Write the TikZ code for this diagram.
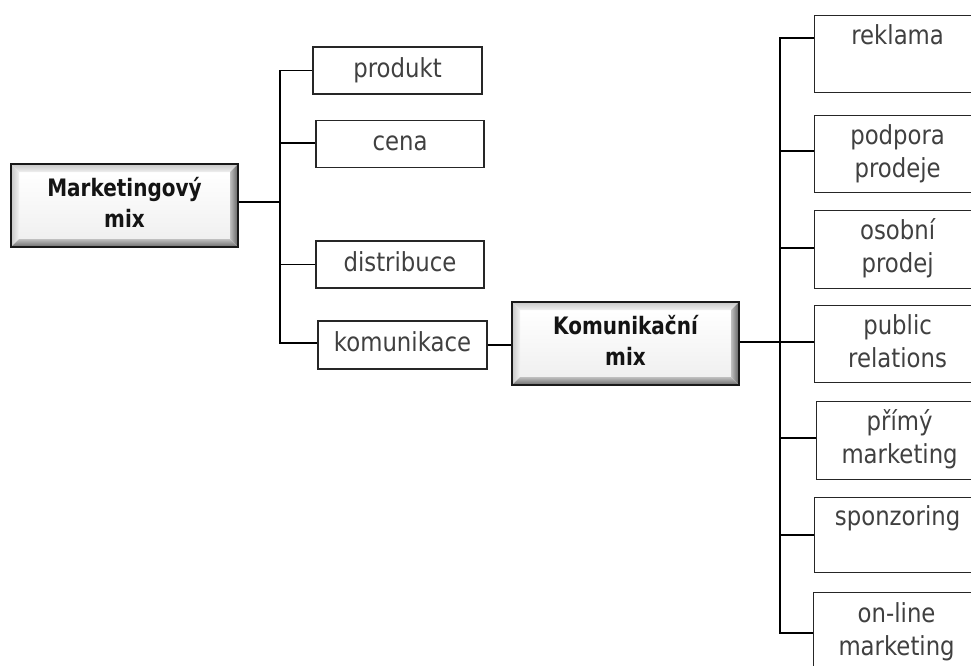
\documentclass[tikz,border=0pt]{standalone}
\usepackage{graphicx}
\usepackage{fontspec}
\setmainfont{DejaVu Sans}
\newcommand{\vtxt}[1]{\scalebox{1}[1.15]{\begin{tabular}{@{}c@{}}#1\end{tabular}}}
\newcommand{\btxt}[1]{\scalebox{1}[1.2]{\begin{tabular}{@{}c@{}}#1\end{tabular}}}
\begin{document}
\begin{tikzpicture}[x=1pt,y=-1pt,
  conn/.style={draw=black,line width=1.3pt},
  plainbox/.style={draw=black!85,line width=1.2pt,fill=white,inner sep=0pt,
    text=black!75,font=\fontsize{22.8}{28.7}\selectfont,align=center},
  bevelbox/.style={draw=black!90,line width=1.6pt,fill=white,inner sep=0pt,
    minimum width=227,minimum height=83,align=center,text=black!92,
    font=\fontsize{20}{25.8}\selectfont\bfseries,
    path picture={
      \coordinate (pnw) at (path picture bounding box.north west);
      \coordinate (pne) at (path picture bounding box.north east);
      \coordinate (psw) at (path picture bounding box.south west);
      \coordinate (pse) at (path picture bounding box.south east);
      \shade[top color=white, bottom color=black!6] ([xshift=8pt,yshift=-8pt]pnw) rectangle ([xshift=-8pt,yshift=8pt]pse);
      \shade[top color=black!22, bottom color=black!6] (pnw) -- (pne) -- ([xshift=-8pt,yshift=-8pt]pne) -- ([xshift=8pt,yshift=-8pt]pnw) -- cycle;
      \shade[left color=black!22, right color=black!5] (pnw) -- ([xshift=8pt,yshift=-8pt]pnw) -- ([xshift=8pt,yshift=8pt]psw) -- (psw) -- cycle;
      \shade[left color=black!25, right color=black!62] (pne) -- ([xshift=-8pt,yshift=-8pt]pne) -- ([xshift=-8pt,yshift=8pt]pse) -- (pse) -- cycle;
      \shade[top color=black!25, bottom color=black!58] (psw) -- ([xshift=8pt,yshift=8pt]psw) -- ([xshift=-8pt,yshift=8pt]pse) -- (pse) -- cycle;
    }},
  leftbox/.style={plainbox,minimum width=168,minimum height=47},
  rightbox/.style={plainbox,minimum width=166,minimum height=77}]
\useasboundingbox (0,0) rectangle (971,666);
\clip (0,0) rectangle (971,666);
% main boxes
\node[bevelbox] (mm) at (124.5,205.5) {\btxt{Marketingový\\mix}};
\node[bevelbox] (km) at (625.5,343.5) {\btxt{Komunikační\\mix}};
% left column
\node[leftbox,minimum width=169] (produkt) at (397.5,70.5) {\vtxt{produkt}};
\node[leftbox] (cena) at (400,144) {\vtxt{cena}};
\node[leftbox] (distribuce) at (400,264.5) {\vtxt{distribuce}};
\node[leftbox,minimum width=169,minimum height=48] (komunikace) at (402.5,345) {\vtxt{komunikace}};
% right column
\node[rightbox,anchor=north west] (reklama) at (814,15) {\vtxt{reklama\\\mbox{}}};
\node[rightbox,anchor=north west] (podpora) at (814,115) {\vtxt{podpora\\prodeje}};
\node[rightbox,anchor=north west,minimum height=78] (osobni) at (814,210) {\vtxt{osobní\\prodej}};
\node[rightbox,anchor=north west] (public) at (814,305) {\vtxt{public\\relations}};
\node[rightbox,anchor=north west,minimum height=78] (primy) at (816,401) {\vtxt{přímý\\marketing}};
\node[rightbox,anchor=north west,minimum height=75] (sponzoring) at (814,497) {\vtxt{sponzoring\\\mbox{}}};
\node[rightbox,anchor=north west,minimum height=80] (online) at (813,592) {\vtxt{on-line\\marketing}};
% left bus
\coordinate (lbx) at (280,0);
\draw[conn] (mm.east |- 0,202) -- (lbx |- 0,202);
\draw[conn] (produkt.west) -- (produkt.west -| lbx) |- (komunikace.west |- 0,343);
\draw[conn] (cena.west |- 0,143) -- (lbx |- 0,143);
\draw[conn] (distribuce.west) -- (distribuce.west -| lbx);
% komunikace to km
\draw[conn] (komunikace.east) -- (km.west |- komunikace.east);
% right bus
\coordinate (rbx) at (780,0);
\coordinate (rtop) at (780,38);
\coordinate (rbot) at (780,633);
\draw[conn] (km.east |- 0,342) -- (rbx |- 0,342);
\draw[conn] (reklama.west |- rtop) -- (rtop) -- (rbot) -- (online.west |- rbot);
\draw[conn] (podpora.west |- 0,151) -- (rbx |- 0,151);
\draw[conn] (osobni.west |- 0,248) -- (rbx |- 0,248);
\draw[conn] (public.west |- 0,342) -- (rbx |- 0,342);
\draw[conn] (primy.west |- 0,438) -- (rbx |- 0,438);
\draw[conn] (sponzoring.west |- 0,535) -- (rbx |- 0,535);
\end{tikzpicture}
\end{document}
